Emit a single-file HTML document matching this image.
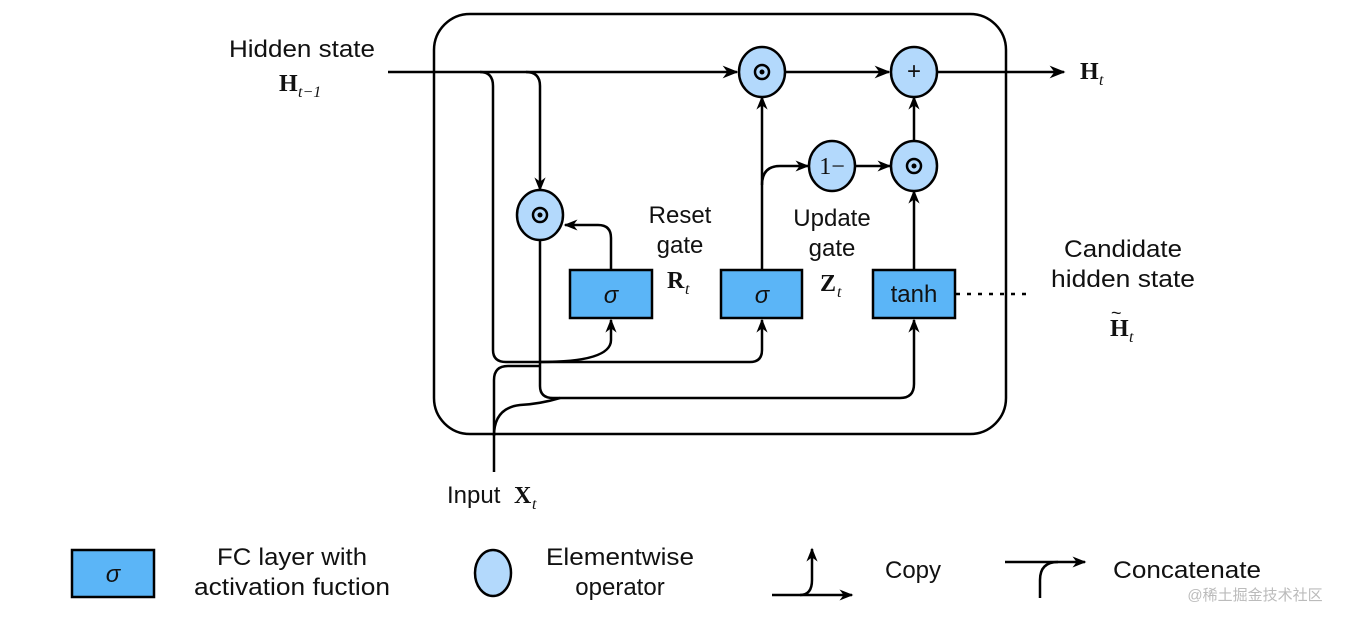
<!DOCTYPE html>
<html><head><meta charset="utf-8"><style>
html,body{margin:0;padding:0;background:#fff;}
svg{display:block;}
.t{font-family:"Liberation Sans",sans-serif;font-size:24px;fill:#111;}
.s{font-family:"Liberation Serif",serif;font-weight:bold;font-size:24px;fill:#111;}
.sub{font-family:"Liberation Serif",serif;font-style:italic;font-size:16px;fill:#111;}
</style></head><body>
<svg width="1353" height="623" viewBox="0 0 1353 623" xmlns="http://www.w3.org/2000/svg">
<defs>
<marker id="a" viewBox="0 0 10 10" refX="9" refY="5" markerWidth="14" markerHeight="14" markerUnits="userSpaceOnUse" orient="auto">
<path d="M0,1 L10,5 L0,9 L3,5 z" fill="#000"/></marker>
<marker id="b" viewBox="0 0 10 10" refX="9" refY="5" markerWidth="16" markerHeight="16" markerUnits="userSpaceOnUse" orient="auto">
<path d="M0,1 L10,5 L0,9 L3,5 z" fill="#000"/></marker>
</defs>
<rect x="434" y="14" width="572" height="420" rx="36" fill="none" stroke="#000" stroke-width="2.5"/>
<g fill="none" stroke="#000" stroke-width="2.5">
<path d="M388,72 H737" marker-end="url(#b)"/>
<path d="M786,72 H889" marker-end="url(#b)"/>
<path d="M938,72 H1064" marker-end="url(#b)"/>
<path d="M480,72 Q493,72 493,86 V350 Q493,362 506,362 H750 Q762,362 762,350 V320" marker-end="url(#a)"/>
<path d="M540,362 Q611,362 611,340 V320" marker-end="url(#a)"/>
<path d="M526,72 Q540,72 540,86 V190" marker-end="url(#a)"/>
<path d="M540,240 V386 Q540,398 553,398 H900 Q914,398 914,384 V320" marker-end="url(#a)"/>
<path d="M494,472 V380 Q494,366 508,366 H540"/>
<path d="M494,436 Q494,408 520,405 Q540,404 560,398"/>
<path d="M611,270 V238 Q611,225 598,225 H565" marker-end="url(#a)"/>
<path d="M762,270 V97" marker-end="url(#a)"/>
<path d="M762,185 Q762,166 780,166 H808" marker-end="url(#a)"/>
<path d="M856,166 H890" marker-end="url(#a)"/>
<path d="M914,270 V191" marker-end="url(#a)"/>
<path d="M914,141 V97" marker-end="url(#a)"/>
<path d="M956,294 H1032" stroke-dasharray="4,7"/>
</g>
<g fill="#b3d9fc" stroke="#000" stroke-width="2.5">
<ellipse cx="762" cy="72" rx="23" ry="25"/>
<ellipse cx="914" cy="72" rx="23" ry="25"/>
<ellipse cx="832" cy="166" rx="23" ry="25"/>
<ellipse cx="914" cy="166" rx="23" ry="25"/>
<ellipse cx="540" cy="215" rx="23" ry="25"/>
<rect x="570" y="270" width="82" height="48" fill="#5bb5f7"/>
<rect x="721" y="270" width="81" height="48" fill="#5bb5f7"/>
<rect x="873" y="270" width="82" height="48" fill="#5bb5f7"/>
</g>
<g fill="none" stroke="#000" stroke-width="2.5">
<circle cx="762" cy="72" r="7"/><circle cx="914" cy="166" r="7"/><circle cx="540" cy="215" r="7"/>
</g>
<g fill="#000"><circle cx="762" cy="72" r="2.5"/><circle cx="914" cy="166" r="2.5"/><circle cx="540" cy="215" r="2.5"/></g>
<text x="914" y="79" class="t" text-anchor="middle" font-size="18">+</text>
<text x="832" y="174" font-family="Liberation Serif,serif" font-size="24" text-anchor="middle" fill="#111">1−</text>
<text x="611" y="303" class="t" font-style="italic" text-anchor="middle">σ</text>
<text x="762" y="303" class="t" font-style="italic" text-anchor="middle">σ</text>
<text x="914" y="302" class="t" text-anchor="middle">tanh</text>
<text x="302" y="57" class="t" text-anchor="middle" textLength="146" lengthAdjust="spacingAndGlyphs">Hidden state</text>
<text x="279" y="91" class="s">H</text><text x="298" y="97" class="sub">t−1</text>
<text x="1080" y="79" class="s">H</text><text x="1099" y="85" class="sub">t</text>
<text x="680" y="223" class="t" text-anchor="middle">Reset</text>
<text x="680" y="253" class="t" text-anchor="middle">gate</text>
<text x="667" y="288" class="s">R</text><text x="685" y="294" class="sub">t</text>
<text x="832" y="226" class="t" text-anchor="middle">Update</text>
<text x="832" y="256" class="t" text-anchor="middle">gate</text>
<text x="820" y="291" class="s">Z</text><text x="837" y="297" class="sub">t</text>
<text x="1123" y="257" class="t" text-anchor="middle" textLength="118" lengthAdjust="spacingAndGlyphs">Candidate</text>
<text x="1123" y="287" class="t" text-anchor="middle" textLength="144" lengthAdjust="spacingAndGlyphs">hidden state</text>
<text x="1110" y="336" class="s">H</text><text x="1129" y="342" class="sub">t</text>
<text x="1111" y="319" font-family="Liberation Sans" font-size="18" fill="#111">~</text>
<text x="447" y="503" class="t">Input</text>
<text x="514" y="503" class="s">X</text><text x="532" y="509" class="sub">t</text>
<rect x="72" y="550" width="82" height="47" fill="#5bb5f7" stroke="#000" stroke-width="2.5"/>
<text x="113" y="582" class="t" font-style="italic" text-anchor="middle">σ</text>
<text x="292" y="565" class="t" text-anchor="middle" textLength="150" lengthAdjust="spacingAndGlyphs">FC layer with</text>
<text x="292" y="595" class="t" text-anchor="middle" textLength="196" lengthAdjust="spacingAndGlyphs">activation fuction</text>
<ellipse cx="493" cy="573" rx="18" ry="23" fill="#b3d9fc" stroke="#000" stroke-width="2.5"/>
<text x="620" y="565" class="t" text-anchor="middle" textLength="148" lengthAdjust="spacingAndGlyphs">Elementwise</text>
<text x="620" y="595" class="t" text-anchor="middle">operator</text>
<g fill="none" stroke="#000" stroke-width="2.5">
<path d="M772,595 H852" marker-end="url(#a)"/>
<path d="M800,595 Q812,595 812,580 V549" marker-end="url(#a)"/>
<path d="M1005,562 H1085" marker-end="url(#a)"/>
<path d="M1040,598 V580 Q1040,562 1058,562"/>
</g>
<text x="913" y="578" class="t" text-anchor="middle">Copy</text>
<text x="1187" y="578" class="t" text-anchor="middle" textLength="148" lengthAdjust="spacingAndGlyphs">Concatenate</text>
<text x="1255" y="600" font-family="Liberation Sans,'Noto Sans CJK SC',sans-serif" font-size="15" fill="#bbb" text-anchor="middle">@稀土掘金技术社区</text>
</svg>
</body></html>
